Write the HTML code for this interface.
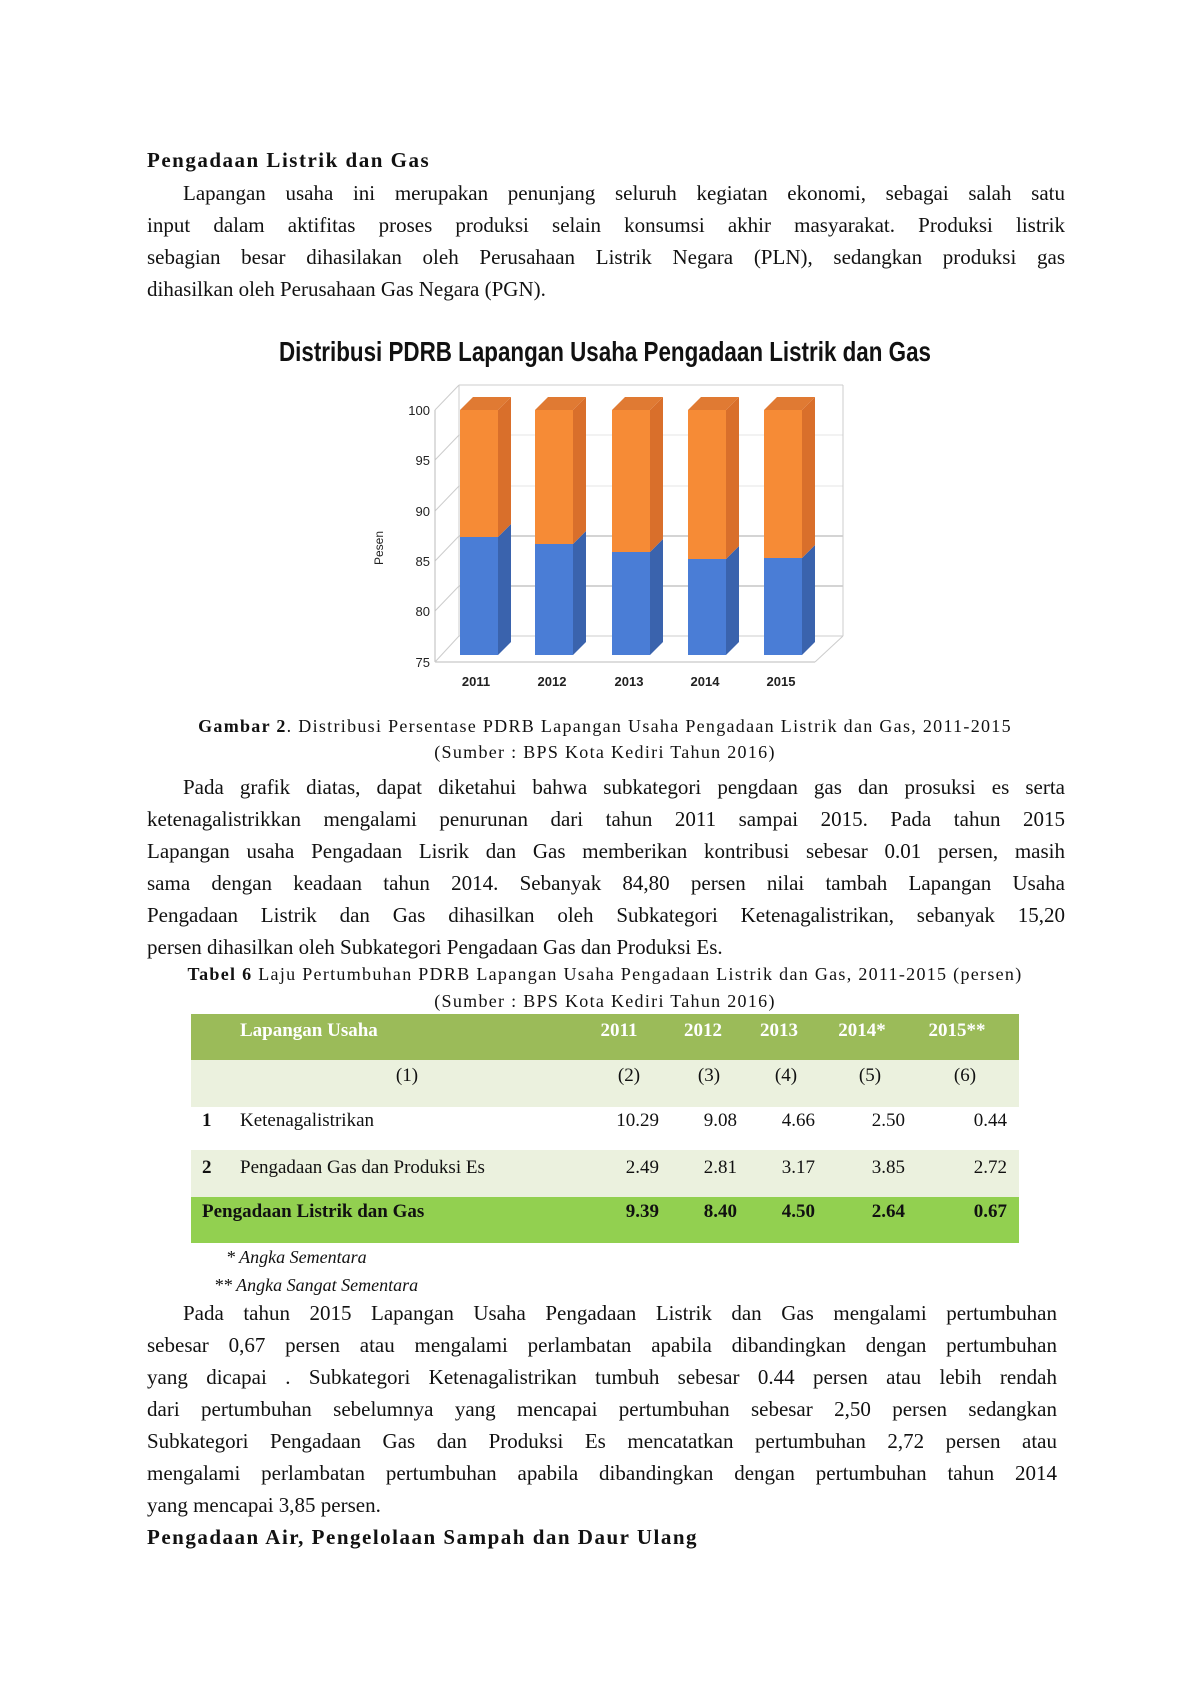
<!DOCTYPE html>
<html><head><meta charset="utf-8"><style>
body{margin:0;background:#fff;}
.pg{position:relative;width:1200px;height:1698px;overflow:hidden;font-family:"Liberation Serif",serif;color:#111;}
.l{position:absolute;left:147px;width:918px;font-size:21px;line-height:24px;white-space:nowrap;}
.j{text-align:justify;text-align-last:justify;white-space:normal;}
.b{font-weight:bold;}
.h{letter-spacing:1.5px;}
.t{position:absolute;font-size:19px;line-height:22px;white-space:nowrap;}
.cap{letter-spacing:1.3px;}
.r{text-align:right;}
</style></head><body><div class="pg">
<div class="l b h" style="top:148px">Pengadaan Listrik dan Gas</div>
<div class="l j" style="top:181px;text-indent:36px">Lapangan usaha ini merupakan penunjang seluruh kegiatan ekonomi, sebagai salah satu</div>
<div class="l j" style="top:213px">input dalam aktifitas proses produksi selain konsumsi akhir masyarakat. Produksi listrik</div>
<div class="l j" style="top:245px">sebagian besar dihasilakan oleh Perusahaan Listrik Negara (PLN), sedangkan produksi gas</div>
<div class="l" style="top:277px">dihasilkan oleh Perusahaan Gas Negara (PGN).</div>

<svg style="position:absolute;left:0;top:0" width="1200" height="720">
<text x="605" y="361" text-anchor="middle" font-family="Liberation Sans,sans-serif" font-weight="bold" font-size="28" transform="translate(605 0) scale(0.8 1) translate(-605 0)" fill="#111">Distribusi PDRB Lapangan Usaha Pengadaan Listrik dan Gas</text>
<g stroke="#ccc" stroke-width="1" fill="none">
<line x1="459" y1="385" x2="843" y2="385"/><line x1="459" y1="435" x2="843" y2="435" stroke="#e6e6e6"/><line x1="459" y1="486" x2="843" y2="486" stroke="#e6e6e6"/>
<line x1="459" y1="536" x2="843" y2="536" stroke="#aaa"/><line x1="459" y1="586" x2="843" y2="586" stroke="#aaa"/>
<line x1="459" y1="385" x2="459" y2="636"/><line x1="843" y1="385" x2="843" y2="636"/>
<line x1="435" y1="410" x2="459" y2="385"/><line x1="435" y1="460" x2="459" y2="435"/><line x1="435" y1="511" x2="459" y2="486"/><line x1="435" y1="561" x2="459" y2="536"/><line x1="435" y1="611" x2="459" y2="586"/>
<line x1="435" y1="410" x2="435" y2="662" stroke="#bbb"/><line x1="435" y1="662" x2="815" y2="662" stroke="#bbb"/><line x1="435" y1="662" x2="459" y2="636"/><line x1="815" y1="662" x2="843" y2="636"/><line x1="459" y1="636" x2="843" y2="636"/>
</g>
<g font-family="Liberation Sans,sans-serif" font-size="13" fill="#222" text-anchor="end">
<text x="430" y="415">100</text><text x="430" y="465">95</text><text x="430" y="516">90</text><text x="430" y="566">85</text><text x="430" y="616">80</text><text x="430" y="667">75</text>
</g>
<text transform="translate(383 548) rotate(-90)" text-anchor="middle" font-family="Liberation Sans,sans-serif" font-size="12" fill="#222">Pesen</text>
<g font-family="Liberation Sans,sans-serif" font-size="13" font-weight="bold" fill="#222" text-anchor="middle">
<text x="476" y="686">2011</text><text x="552" y="686">2012</text><text x="629" y="686">2013</text><text x="705" y="686">2014</text><text x="781" y="686">2015</text>
</g>
<g>
<polygon points="498,655 511,642 511,524 498,537" fill="#3a63ad"/><polygon points="498,537 511,524 511,397 498,410" fill="#d96f2b"/><polygon points="460,410 473,397 511,397 498,410" fill="#e07a33"/><rect x="460" y="410" width="38" height="127" fill="#f68b36"/><rect x="460" y="537" width="38" height="118" fill="#4a7dd6"/>
<polygon points="573,655 586,642 586,531 573,544" fill="#3a63ad"/><polygon points="573,544 586,531 586,397 573,410" fill="#d96f2b"/><polygon points="535,410 548,397 586,397 573,410" fill="#e07a33"/><rect x="535" y="410" width="38" height="134" fill="#f68b36"/><rect x="535" y="544" width="38" height="111" fill="#4a7dd6"/>
<polygon points="650,655 663,642 663,539 650,552" fill="#3a63ad"/><polygon points="650,552 663,539 663,397 650,410" fill="#d96f2b"/><polygon points="612,410 625,397 663,397 650,410" fill="#e07a33"/><rect x="612" y="410" width="38" height="142" fill="#f68b36"/><rect x="612" y="552" width="38" height="103" fill="#4a7dd6"/>
<polygon points="726,655 739,642 739,546 726,559" fill="#3a63ad"/><polygon points="726,559 739,546 739,397 726,410" fill="#d96f2b"/><polygon points="688,410 701,397 739,397 726,410" fill="#e07a33"/><rect x="688" y="410" width="38" height="149" fill="#f68b36"/><rect x="688" y="559" width="38" height="96" fill="#4a7dd6"/>
<polygon points="802,655 815,642 815,545 802,558" fill="#3a63ad"/><polygon points="802,558 815,545 815,397 802,410" fill="#d96f2b"/><polygon points="764,410 777,397 815,397 802,410" fill="#e07a33"/><rect x="764" y="410" width="38" height="148" fill="#f68b36"/><rect x="764" y="558" width="38" height="97" fill="#4a7dd6"/>
</g>
</svg>

<div class="t cap" style="left:100px;width:1010px;text-align:center;top:715px;font-size:18px"><b>Gambar 2</b>. Distribusi Persentase PDRB Lapangan Usaha Pengadaan Listrik dan Gas, 2011-2015</div>
<div class="t cap" style="left:100px;width:1010px;text-align:center;top:741px;font-size:18px">(Sumber : BPS Kota Kediri Tahun 2016)</div>

<div class="l j" style="top:775px;text-indent:36px">Pada grafik diatas, dapat diketahui bahwa subkategori pengdaan gas dan prosuksi es serta</div>
<div class="l j" style="top:807px">ketenagalistrikkan mengalami penurunan dari tahun 2011 sampai 2015. Pada tahun 2015</div>
<div class="l j" style="top:839px">Lapangan usaha Pengadaan Lisrik dan Gas memberikan kontribusi sebesar 0.01 persen, masih</div>
<div class="l j" style="top:871px">sama dengan keadaan tahun 2014. Sebanyak 84,80 persen nilai tambah Lapangan Usaha</div>
<div class="l j" style="top:903px">Pengadaan Listrik dan Gas dihasilkan oleh Subkategori Ketenagalistrikan, sebanyak 15,20</div>
<div class="l" style="top:935px">persen dihasilkan oleh Subkategori Pengadaan Gas dan Produksi Es.</div>

<div class="t cap" style="left:100px;width:1010px;text-align:center;top:963px;font-size:18px"><b>Tabel 6</b> Laju Pertumbuhan PDRB Lapangan Usaha Pengadaan Listrik dan Gas, 2011-2015 (persen)</div>
<div class="t cap" style="left:100px;width:1010px;text-align:center;top:990px;font-size:18px">(Sumber : BPS Kota Kediri Tahun 2016)</div>

<div style="position:absolute;left:191px;top:1014px;width:828px;height:46px;background:#9bbb59"></div>
<div style="position:absolute;left:191px;top:1060px;width:828px;height:47px;background:#ebf1de"></div>
<div style="position:absolute;left:191px;top:1150px;width:828px;height:47px;background:#ebf1de"></div>
<div style="position:absolute;left:191px;top:1197px;width:828px;height:46px;background:#92d050"></div>
<div class="t b" style="left:240px;top:1020px;color:#fff">Lapangan Usaha</div>
<div class="t b" style="left:589px;width:60px;text-align:center;top:1020px;color:#fff">2011</div>
<div class="t b" style="left:673px;width:60px;text-align:center;top:1020px;color:#fff">2012</div>
<div class="t b" style="left:749px;width:60px;text-align:center;top:1020px;color:#fff">2013</div>
<div class="t b" style="left:832px;width:60px;text-align:center;top:1020px;color:#fff">2014*</div>
<div class="t b" style="left:922px;width:70px;text-align:center;top:1020px;color:#fff">2015**</div>
<div class="t" style="left:377px;width:60px;text-align:center;top:1065px">(1)</div>
<div class="t" style="left:599px;width:60px;text-align:center;top:1065px">(2)</div>
<div class="t" style="left:679px;width:60px;text-align:center;top:1065px">(3)</div>
<div class="t" style="left:756px;width:60px;text-align:center;top:1065px">(4)</div>
<div class="t" style="left:840px;width:60px;text-align:center;top:1065px">(5)</div>
<div class="t" style="left:935px;width:60px;text-align:center;top:1065px">(6)</div>
<div class="t b" style="left:202px;top:1110px">1</div><div class="t" style="left:240px;top:1110px">Ketenagalistrikan</div>
<div class="t r" style="left:579px;width:80px;top:1110px">10.29</div><div class="t r" style="left:657px;width:80px;top:1110px">9.08</div><div class="t r" style="left:735px;width:80px;top:1110px">4.66</div><div class="t r" style="left:825px;width:80px;top:1110px">2.50</div><div class="t r" style="left:927px;width:80px;top:1110px">0.44</div>
<div class="t b" style="left:202px;top:1157px">2</div><div class="t" style="left:240px;top:1157px">Pengadaan Gas dan Produksi Es</div>
<div class="t r" style="left:579px;width:80px;top:1157px">2.49</div><div class="t r" style="left:657px;width:80px;top:1157px">2.81</div><div class="t r" style="left:735px;width:80px;top:1157px">3.17</div><div class="t r" style="left:825px;width:80px;top:1157px">3.85</div><div class="t r" style="left:927px;width:80px;top:1157px">2.72</div>
<div class="t b" style="left:202px;top:1201px">Pengadaan Listrik dan Gas</div>
<div class="t r b" style="left:579px;width:80px;top:1201px">9.39</div><div class="t r b" style="left:657px;width:80px;top:1201px">8.40</div><div class="t r b" style="left:735px;width:80px;top:1201px">4.50</div><div class="t r b" style="left:825px;width:80px;top:1201px">2.64</div><div class="t r b" style="left:927px;width:80px;top:1201px">0.67</div>
<div class="t" style="left:226px;top:1246px;font-size:18px;font-style:italic">* Angka Sementara</div>
<div class="t" style="left:214px;top:1274px;font-size:18px;font-style:italic">** Angka Sangat Sementara</div>

<div class="l j" style="top:1301px;text-indent:36px;width:910px">Pada tahun 2015 Lapangan Usaha Pengadaan Listrik dan Gas mengalami pertumbuhan</div>
<div class="l j" style="top:1333px;width:910px">sebesar 0,67 persen atau mengalami perlambatan apabila dibandingkan dengan pertumbuhan</div>
<div class="l j" style="top:1365px;width:910px">yang dicapai . Subkategori Ketenagalistrikan tumbuh sebesar 0.44 persen atau lebih rendah</div>
<div class="l j" style="top:1397px;width:910px">dari pertumbuhan sebelumnya yang mencapai pertumbuhan sebesar 2,50 persen sedangkan</div>
<div class="l j" style="top:1429px;width:910px">Subkategori Pengadaan Gas dan Produksi Es mencatatkan pertumbuhan 2,72 persen atau</div>
<div class="l j" style="top:1461px;width:910px">mengalami perlambatan pertumbuhan apabila dibandingkan dengan pertumbuhan tahun 2014</div>
<div class="l" style="top:1493px">yang mencapai 3,85 persen.</div>
<div class="l b h" style="top:1525px">Pengadaan Air, Pengelolaan Sampah dan Daur Ulang</div>
</div></body></html>
